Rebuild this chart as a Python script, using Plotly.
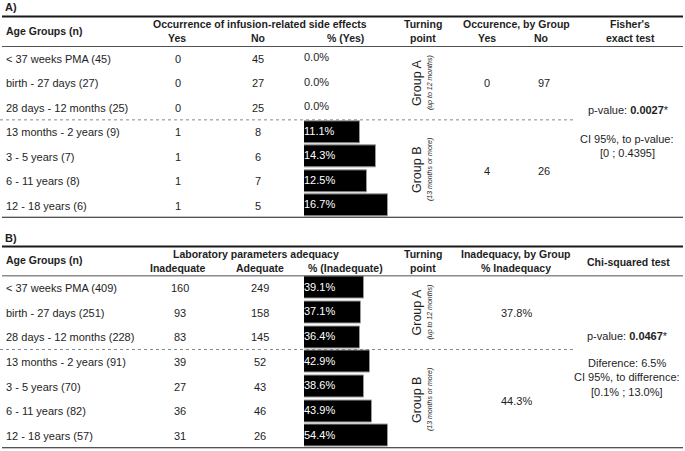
import plotly.graph_objects as go

W, H = 685, 451

# ---------------- data ----------------
age_groups_a = ["< 37 weeks PMA (45)", "birth - 27 days (27)", "28 days - 12 months (25)",
                "13 months - 2 years (9)", "3 - 5 years (7)", "6 - 11 years (8)", "12 - 18 years (6)"]
yes_a = [0, 0, 0, 1, 1, 1, 1]
no_a = [45, 27, 25, 8, 6, 7, 5]
pct_a = [0.0, 0.0, 0.0, 11.1, 14.3, 12.5, 16.7]
group_yes_a = [0, 4]
group_no_a = [97, 26]

age_groups_b = ["< 37 weeks PMA (409)", "birth - 27 days (251)", "28 days - 12 months (228)",
                "13 months - 2 years (91)", "3 - 5 years (70)", "6 - 11 years (82)", "12 - 18 years (57)"]
inadequate_b = [160, 93, 83, 39, 27, 36, 31]
adequate_b = [249, 158, 145, 52, 43, 46, 26]
pct_b = [39.1, 37.1, 36.4, 42.9, 38.6, 43.9, 54.4]
group_pct_b = ["37.8%", "44.3%"]

group_labels = ["Group A", "Group B"]
group_sub = ["(up to 12 months)", "(13 months or more)"]

# ---------------- helpers ----------------
FONT = "Arial, Liberation Sans, sans-serif"
TXT = "#1e1e1e"


def px(x):
    return x / W


def py(y):
    return 1 - y / H


fig = go.Figure()

rows = list(range(7))

# bars
for ax, pcts in (("", pct_a), ("2", pct_b)):
    fig.add_trace(go.Bar(
        x=pcts, y=rows, orientation="h", width=0.9,
        marker=dict(color="black",
                    line=dict(color="#9a9a9a", width=[1 if v > 0 else 0 for v in pcts])),
        xaxis="x" + ax, yaxis="y" + ax, hoverinfo="skip", showlegend=False))
    fig.add_trace(go.Scatter(
        x=[0] * len(pcts), y=rows, mode="text",
        text=[f"{v:.1f}%" for v in pcts], textposition="middle right",
        textfont=dict(family=FONT, size=11,
                      color=["white" if v > 0 else TXT for v in pcts]),
        xaxis="x" + ax, yaxis="y" + ax, hoverinfo="skip", showlegend=False))

ann = []


def T(text, x, y, yref="paper", size=11, bold=False, anchor="center", color=TXT,
      angle=0, italic=False):
    if bold:
        text = f"<b>{text}</b>"
    if italic:
        text = f"<i>{text}</i>"
    ann.append(dict(text=text, x=px(x), y=(py(y) if yref == "paper" else y),
                    xref="paper", yref=yref, xanchor=anchor, yanchor="middle",
                    showarrow=False, textangle=angle,
                    font=dict(family=FONT, size=size, color=color)))


shapes = []


def hline(y, x0=2, x1=683, yref="paper", width=2, dash="solid", color="#1a1a1a"):
    yy = py(y) if yref == "paper" else y
    shapes.append(dict(type="line", xref="paper", yref=yref, x0=px(x0), x1=px(x1),
                       y0=yy, y1=yy, line=dict(color=color, width=width, dash=dash)))


# ---------------- panel A ----------------
T("A)", 3, 7, bold=True, anchor="left")
hline(16.5)
T("Age Groups (n)", 4, 31, bold=True, anchor="left", size=10.5)
T("Occurrence of infusion-related side effects", 260, 24, bold=True, size=10.5)
T("Yes", 177, 38, bold=True, size=10.5)
T("No", 258, 38, bold=True, size=10.5)
T("% (Yes)", 345, 38, bold=True, size=10.5)
T("Turning", 423, 24, bold=True, size=10.5)
T("point", 423, 38, bold=True, size=10.5)
T("Occurence, by Group", 516, 24, bold=True, size=10.5)
T("Yes", 487, 38, bold=True, size=10.5)
T("No", 541, 38, bold=True, size=10.5)
T("Fisher's", 630, 24, bold=True, size=10.5)
T("exact test", 630, 38, bold=True, size=10.5)
hline(-0.5, yref="y", width=1.5)
hline(2.5, x0=0, x1=573, yref="y", width=1, dash="dot", color="#8a8a8a")
hline(6.5, yref="y", width=2)

for i in rows:
    T(age_groups_a[i], 4, i, yref="y", anchor="left")
    T(str(yes_a[i]), 178, i, yref="y")
    T(str(no_a[i]), 258, i, yref="y")

for g, yc, yv in ((0, 1, 1), (1, 4.55, 4.6)):
    T(group_labels[g], 417, yc, yref="y", size=12.5, angle=-90)
    T(group_sub[g], 430, yc, yref="y", size=7, angle=-90, italic=True)
    T(str(group_yes_a[g]), 487, yv, yref="y")
    T(str(group_no_a[g]), 544, yv, yref="y")

T("p-value: <b>0.0027</b>*", 628, 110)
T("CI 95%, to p-value:", 627, 139)
T("[0 ; 0.4395]", 627, 153)

# ---------------- panel B ----------------
T("B)", 3, 238, bold=True, anchor="left")
hline(246.5)
T("Age Groups (n)", 4, 260, bold=True, anchor="left", size=10.5)
T("Laboratory parameters adequacy", 256, 254, bold=True, size=10.5)
T("Inadequate", 178, 268, bold=True, size=10.5)
T("Adequate", 260, 268, bold=True, size=10.5)
T("% (Inadequate)", 345, 268, bold=True, size=10.5)
T("Turning", 423, 254, bold=True, size=10.5)
T("point", 423, 268, bold=True, size=10.5)
T("Inadequacy, by Group", 516, 254, bold=True, size=10.5)
T("% Inadequacy", 516, 268, bold=True, size=10.5)
T("Chi-squared test", 628, 262, bold=True, size=10.5)
hline(-0.5, yref="y2", width=1.5)
hline(2.5, x0=0, x1=573, yref="y2", width=1, dash="dot", color="#8a8a8a")
hline(6.5, yref="y2", width=2)

for i in rows:
    T(age_groups_b[i], 4, i, yref="y2", anchor="left")
    T(str(inadequate_b[i]), 180, i, yref="y2")
    T(str(adequate_b[i]), 260, i, yref="y2")

for g, yc, yv in ((0, 1, 1), (1, 4.55, 4.6)):
    T(group_labels[g], 417, yc, yref="y2", size=12.5, angle=-90)
    T(group_sub[g], 430, yc, yref="y2", size=7, angle=-90, italic=True)
    T(group_pct_b[g], 516, yv, yref="y2")

T("p-value: <b>0.0467</b>*", 627, 336)
T("Diference: 6.5%", 627, 363)
T("CI 95%, to difference:", 627, 377)
T("[0.1% ; 13.0%]", 627, 392)

# ---------------- layout ----------------
xdom = [px(304), px(388)]
fig.update_layout(
    width=W, height=H, margin=dict(l=0, r=0, t=0, b=0),
    paper_bgcolor="white", plot_bgcolor="rgba(0,0,0,0)",
    showlegend=False, annotations=ann, shapes=shapes,
    xaxis=dict(domain=xdom, range=[0, max(pct_a)], visible=False, anchor="y", fixedrange=True),
    yaxis=dict(domain=[py(217.85), py(46.35)], range=[6.5, -0.5], visible=False, anchor="x", fixedrange=True),
    xaxis2=dict(domain=xdom, range=[0, max(pct_b)], visible=False, anchor="y2", fixedrange=True),
    yaxis2=dict(domain=[py(448.2), py(275.5)], range=[6.5, -0.5], visible=False, anchor="x2", fixedrange=True),
    bargap=0,
)

fig.write_html("out.html", config={"displayModeBar": False},
               post_script="document.body.style.margin='0';document.body.style.overflow='hidden';")
